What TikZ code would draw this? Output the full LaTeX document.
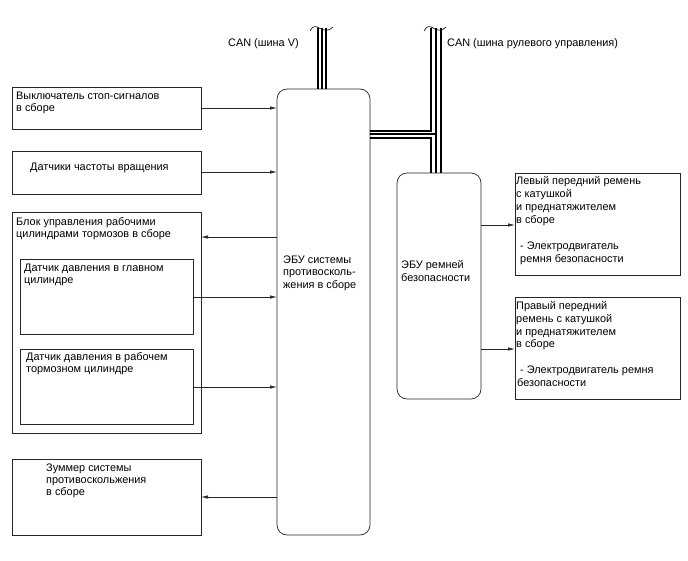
\documentclass[tikz,border=0pt]{standalone}
\usepackage{fontspec}
\setmainfont{Liberation Sans}
\usetikzlibrary{arrows.meta}
\begin{document}
\begin{tikzpicture}[x=1pt,y=-1pt,
  box/.style={draw=black!85, line width=0.7pt, inner sep=0pt, outer sep=0pt, anchor=north west},
  rbox/.style={box, rounded corners=10pt},
  txt/.style={inner sep=0pt, align=left, anchor=north west, font=\fontsize{10.9}{12}\selectfont},
  arr/.style={draw=black!85, line width=0.7pt, -{Latex[length=7pt,width=3.5pt]}},
  bus/.style={line width=2pt, line join=miter},
  busm/.style={line width=1.4pt},
  wave/.style={line width=0.6pt}]
\useasboundingbox (0,0) rectangle (688,560);
\fill[white] (0,0) rectangle (688,560);

% main boxes
\node[rbox, minimum width=93pt, minimum height=446pt] (ecu) at (277,89) {};
\node[rbox, minimum width=84pt, minimum height=226pt] (sb) at (397,173) {};

% left boxes
\node[box, minimum width=189pt, minimum height=42pt] (b1) at (12,87) {};
\node[box, minimum width=189pt, minimum height=43pt] (b2) at (12,151) {};
\node[box, minimum width=189pt, minimum height=221pt] (b3) at (12,212) {};
\node[box, minimum width=173pt, minimum height=75pt] (b3a) at (20,259) {};
\node[box, minimum width=173pt, minimum height=75pt] (b3b) at (20,349) {};
\node[box, minimum width=189pt, minimum height=76pt] (b4) at (12,459) {};

% right boxes
\node[box, minimum width=165pt, minimum height=102pt] (r1) at (515,173) {};
\node[box, minimum width=165pt, minimum height=102pt] (r2) at (515,297) {};

% texts
\node[txt] (tb1) at (16,91.3) {Выключатель стоп-сигналов\\в сборе};
\node[txt] (tb2) at (30,162.3) {Датчики частоты вращения};
\node[txt] (tb3) at (16,217.3) {Блок управления рабочими\\цилиндрами тормозов в сборе};
\node[txt] (tb3a) at (24,263.3) {Датчик давления в главном\\цилиндре};
\node[txt] (tb3b) at (26,352.3) {Датчик давления в рабочем\\тормозном цилиндре};
\node[txt] (tb4) at (46,463.3) {Зуммер системы\\противоскольжения\\в сборе};
\node[txt, font=\fontsize{10.9}{12.5}\selectfont] (tecu) at (283,255.5) {ЭБУ системы\\противосколь-\\жения в сборе};
\node[txt, font=\fontsize{10.9}{13.5}\selectfont] (tsb) at (401,260) {ЭБУ ремней\\безопасности};
\node[txt, font=\fontsize{10.9}{13}\selectfont] (tr1) at (516,176.3) {Левый передний ремень\\с катушкой\\и преднатяжителем\\в сборе\\[13pt]\hspace*{4pt}- Электродвигатель\\\hspace*{4pt}ремня безопасности};
\node[txt, font=\fontsize{10.9}{12.8}\selectfont] (tr2) at (516,301.3) {Правый передний\\ремень с катушкой\\и преднатяжителем\\в сборе\\[12.8pt]\hspace*{4pt}- Электродвигатель ремня\\\hspace*{1pt}безопасности};
\node[txt] (tcan1) at (228,38.3) {CAN (шина V)};
\node[txt] (tcan2) at (447,38.3) {CAN (шина рулевого управления)};

% arrow levels
\coordinate (y1) at (0,108);
\coordinate (y2) at (0,172);
\coordinate (y3) at (0,237);
\coordinate (y4) at (0,297);
\coordinate (y5) at (0,387);
\coordinate (y6) at (0,497);
\coordinate (y7) at (0,225);
\coordinate (y8) at (0,349);

\draw[arr] (b1.east |- y1) -- (ecu.west |- y1);
\draw[arr] (b2.east |- y2) -- (ecu.west |- y2);
\draw[arr] (ecu.west |- y3) -- (b3.east |- y3);
\draw[arr] (b3a.east |- y4) -- (ecu.west |- y4);
\draw[arr] (b3b.east |- y5) -- (ecu.west |- y5);
\draw[arr] (ecu.west |- y6) -- (b4.east |- y6);
\draw[arr] (sb.east |- y7) -- (r1.west |- y7);
\draw[arr] (sb.east |- y8) -- (r2.west |- y8);

% CAN V bus
\coordinate (lb1) at (318,28);
\coordinate (lb2) at (322,28);
\coordinate (lb3) at (326,28);
\draw[bus] (lb1) -- (lb1 |- ecu.north);
\draw[busm] (lb2) -- (lb2 |- ecu.north);
\draw[bus] (lb3) -- (lb3 |- ecu.north);
\draw[wave] (310,31) .. controls (313,25) and (316,26) .. (320,28.5) .. controls (325,31) and (329,31) .. (333,27);

% steering CAN bus
\coordinate (rb1) at (431,28);
\coordinate (rb2) at (436,28);
\coordinate (rb3) at (440.5,28);
\coordinate (hy1) at (0,130.5);
\coordinate (hy2) at (0,134);
\coordinate (hy3) at (0,138);
\draw[bus] (rb1) -- (rb1 |- hy1) -- (ecu.east |- hy1);
\draw[busm] (rb2) -- (rb2 |- sb.north);
\draw[busm] (ecu.east |- hy2) -- (rb2 |- hy2);
\draw[bus] (rb3) -- (rb3 |- sb.north);
\draw[bus] (ecu.east |- hy3) -- (rb1 |- hy3) -- (rb1 |- sb.north);
\draw[wave] (424,31) .. controls (427,25) and (430,26) .. (434,28.5) .. controls (439,31) and (442,31) .. (446,27);
\end{tikzpicture}
\end{document}
